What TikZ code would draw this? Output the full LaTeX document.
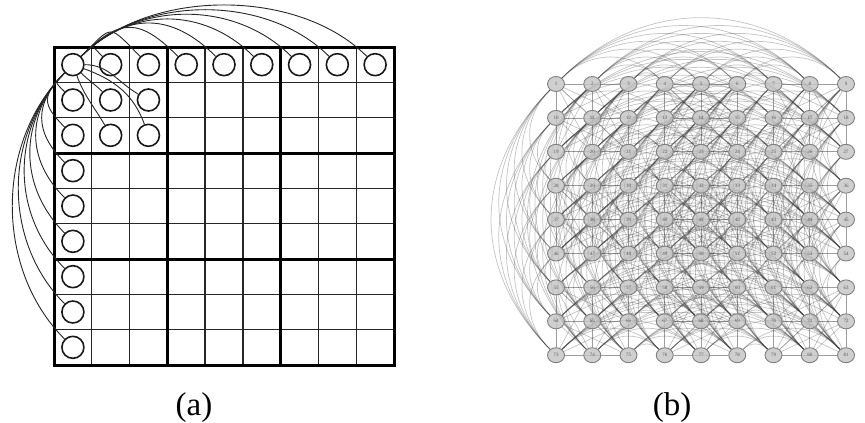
\documentclass[tikz,border=0pt]{standalone}
\usepackage{fontspec}
\setmainfont{Liberation Serif}
\usetikzlibrary{shapes.geometric}
\pgfdeclarelayer{bg}
\pgfsetlayers{bg,main}
\begin{document}
\begin{tikzpicture}[x=1pt,y=1pt,
  thingrid/.style={line width=1.4pt, draw=black!85},
  thickgrid/.style={line width=3pt, draw=black, line cap=rect},
  acirc/.style={circle, draw=black!90, line width=1.6pt, minimum size=22pt, inner sep=0pt},
  aedge/.style={line width=0.9pt, draw=black!85},
  bnode/.style={ellipse, draw=black!50, fill=black!25, fill opacity=0.75, text opacity=1,
    line width=0.9pt, minimum width=17pt, minimum height=15pt, inner sep=0pt,
    text=black!65, font=\fontsize{5}{5}\selectfont},
  bedge/.style={line width=0.75pt, draw=black!75, opacity=0.3},
  caption/.style={font=\fontsize{33}{36}\selectfont, anchor=base}]
\useasboundingbox (0,0) rectangle (865,-423);

% ---------- panel (a): grid ----------
\foreach \k in {1,2,4,5,7,8}{
  \draw[thingrid] ({54+\k*37.778},-47) -- ({54+\k*37.778},-365);
  \draw[thingrid] (54,{-47-\k*35.333}) -- (394,{-47-\k*35.333});
}
\foreach \k in {3,6}{
  \draw[thickgrid] ({54+\k*37.778},-47) -- ({54+\k*37.778},-365);
  \draw[thickgrid] (54,{-47-\k*35.333}) -- (394,{-47-\k*35.333});
}
\draw[thickgrid] (54,-47) rectangle (394,-365);

% ---------- panel (a): circles ----------
\foreach \i/\j in {0/0,0/1,0/2,0/3,0/4,0/5,0/6,0/7,0/8,
                   1/0,1/1,1/2,2/0,2/1,2/2,
                   3/0,4/0,5/0,6/0,7/0,8/0}{
  \node[acirc] (a-\i-\j) at ({54+(\j+0.5)*37.778},{-47-(\i+0.5)*35.333}) {};
}

% ---------- panel (a): arcs ----------
\foreach \j/\L in {1/2.2,2/2.0,3/1.45,4/1.2,5/1.05,6/0.97,7/0.91,8/0.87}{
  \draw[aedge] (a-0-0) to[out=45,in=135,looseness=\L] (a-0-\j);
}
\foreach \i/\L in {1/2,2/1.53,3/1.24,4/1.12,5/1.05,6/1.0,7/0.97,8/0.95}{
  \draw[aedge] (a-0-0) to[out=225,in=135,looseness=\L] (a-\i-0);
}
\draw[aedge] (a-0-0) to[out=-45,in=135] (a-1-1);
\draw[aedge] (a-0-0) to[out=0,in=150] (a-1-2);
\draw[aedge] (a-0-0) to[out=-20,in=110] (a-2-2);
\draw[aedge] (a-0-0) to[out=-70,in=120] (a-2-1);

% ---------- panel (b): nodes ----------
\foreach \i in {0,...,8}{
  \foreach \j in {0,...,8}{
    \pgfmathtruncatemacro\n{9*\i+\j+1}
    \node[bnode] (b-\i-\j) at ({556+\j*36.25},{-84-\i*33.9}) {\n};
  }
}

% ---------- panel (b): edges ----------
\begin{pgfonlayer}{bg}
% same row
\foreach \r in {0,...,8}{
  \foreach \a in {0,...,7}{
    \pgfmathtruncatemacro\an{\a+1}
    \foreach \b in {\an,...,8}{
      \pgfmathtruncatemacro\same{int(\a/3)==int(\b/3)}
      \ifnum\same=1
        \draw[bedge] (b-\r-\a) -- (b-\r-\b);
      \else
        \draw[bedge] (b-\r-\a) to[out=45,in=135,looseness=1.05] (b-\r-\b);
      \fi
    }
  }
}
% same column
\foreach \c in {0,...,8}{
  \foreach \a in {0,...,7}{
    \pgfmathtruncatemacro\an{\a+1}
    \foreach \b in {\an,...,8}{
      \pgfmathtruncatemacro\same{int(\a/3)==int(\b/3)}
      \ifnum\same=1
        \draw[bedge] (b-\a-\c) -- (b-\b-\c);
      \else
        \draw[bedge] (b-\a-\c) to[out=225,in=135,looseness=1.1] (b-\b-\c);
      \fi
    }
  }
}
% same box, different row and column
\foreach \r in {0,...,8}{
  \foreach \c in {0,...,8}{
    \pgfmathtruncatemacro\rb{3*int(\r/3)}
    \pgfmathtruncatemacro\cb{3*int(\c/3)}
    \foreach \dr in {1,2}{
      \pgfmathtruncatemacro\rr{\r+\dr}
      \pgfmathtruncatemacro\ok{\rr<\rb+3}
      \ifnum\ok=1
        \foreach \dc in {0,1,2}{
          \pgfmathtruncatemacro\cc{\cb+\dc}
          \ifnum\cc=\c\relax\else
            \draw[bedge] (b-\r-\c) -- (b-\rr-\cc);
          \fi
        }
      \fi
    }
  }
}
\end{pgfonlayer}

% ---------- captions ----------
\node[caption] (capa) at (194,-415) {(a)};
\node[caption] (capb) at (672,-415) {(b)};
\end{tikzpicture}
\end{document}
